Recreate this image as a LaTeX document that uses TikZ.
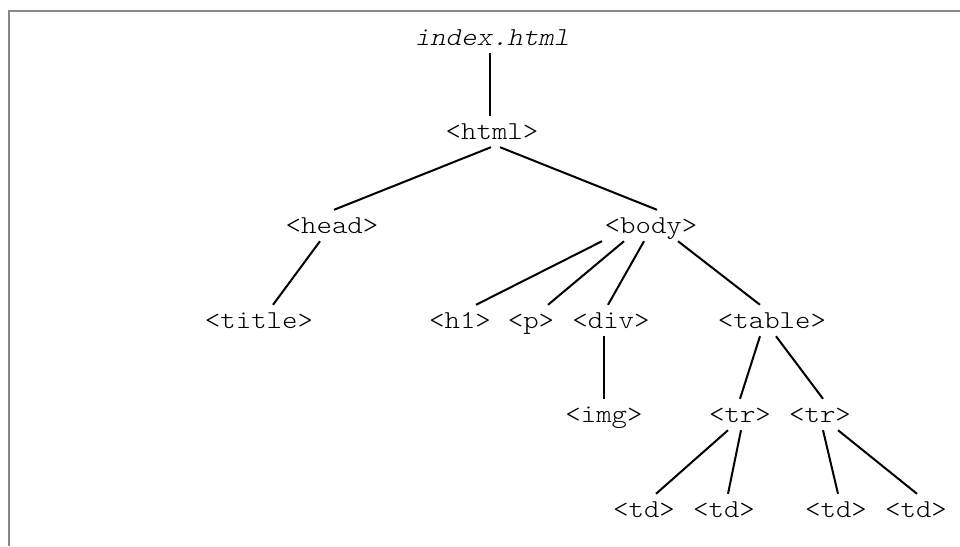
\documentclass[tikz,border=0pt]{standalone}
\usepackage{fontspec}
\newfontfamily\tagfont[FakeStretch=1.14]{Latin Modern Mono Light}
\newfontfamily\filefont[FakeStretch=1.14,FakeSlant=0.22]{Latin Modern Mono Light}
\begin{document}
\begin{tikzpicture}[x=1pt,y=-1pt,
  tag/.style={anchor=base, inner xsep=0pt, inner ysep=8pt,
    text height=15pt, text depth=0pt,
    font=\tagfont\fontsize{25.8}{30}\selectfont},
  edge/.style={line width=2pt, black},
  frame/.style={line width=2pt, color={rgb,255:red,136;green,136;blue,136}}]
  % page and frame
  \useasboundingbox (0,0) rectangle (960,546);
  \draw[frame] (9,546) -- (9,11) -- (960,11);

  % nodes (x = centre, y = baseline)
  \node[tag] (index) at (492,45)  {\filefont\fontsize{25.8}{30}\selectfont index.html};
  \node[tag] (html)  at (492,139) {<html>};
  \node[tag] (head)  at (332,233) {<head>};
  \node[tag] (body)  at (651,233) {<body>};
  \node[tag] (title) at (259,328) {<title>};
  \node[tag] (h1)    at (460,328) {<h1>};
  \node[tag] (p)     at (531,328) {<p>};
  \node[tag] (div)   at (611,328) {<div>};
  \node[tag] (table) at (772,328) {<table>};
  \node[tag] (img)   at (604,422) {<img>};
  \node[tag] (tra)   at (740,422) {<tr>};
  \node[tag] (trb)   at (820,422) {<tr>};
  \node[tag] (tda)   at (644,517) {<td>};
  \node[tag] (tdb)   at (724,517) {<td>};
  \node[tag] (tdc)   at (836,517) {<td>};
  \node[tag] (tdd)   at (916,517) {<td>};

  % tree edges
  \draw[edge] ([xshift=-2pt]index.south) -- ([xshift=-2pt]html.north);
  \draw[edge] ([xshift=-1pt]html.south)  -- ([xshift=2pt]head.north);
  \draw[edge] ([xshift=8pt]html.south)   -- ([xshift=6pt]body.north);
  \draw[edge] ([xshift=-12pt]head.south) -- ([xshift=14pt]title.north);
  \draw[edge] ([xshift=-49pt]body.south) -- ([xshift=16pt]h1.north);
  \draw[edge] ([xshift=-27pt]body.south) -- ([xshift=17pt]p.north);
  \draw[edge] ([xshift=-7pt]body.south)  -- ([xshift=-3pt]div.north);
  \draw[edge] ([xshift=27pt]body.south)  -- ([xshift=-12pt]table.north);
  \draw[edge] ([xshift=-7pt]div.south)   -- (img.north);
  \draw[edge] ([xshift=-12pt]table.south) -- (tra.north);
  \draw[edge] ([xshift=4pt]table.south)  -- ([xshift=3pt]trb.north);
  \draw[edge] ([xshift=-12pt]tra.south)  -- ([xshift=12pt]tda.north);
  \draw[edge] ([xshift=1pt]tra.south)    -- ([xshift=4pt]tdb.north);
  \draw[edge] ([xshift=3pt]trb.south)    -- ([xshift=2pt]tdc.north);
  \draw[edge] ([xshift=18pt]trb.south)   -- ([xshift=1pt]tdd.north);
\end{tikzpicture}
\end{document}
